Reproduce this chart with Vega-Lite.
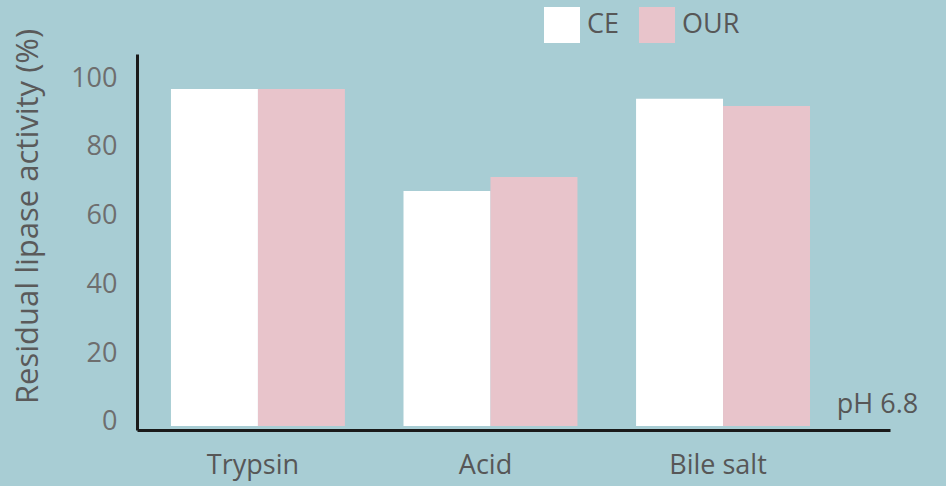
{
  "$schema": "https://vega.github.io/schema/vega-lite/v6.json",
  "width": 753,
  "height": 376,
  "autosize": {"type": "none"},
  "padding": {"left": 137, "top": 54, "right": 56, "bottom": 56},
  "background": "#a8cdd4",
  "config": {
    "view": {"stroke": null},
    "font": "Open Sans",
    "axis": {"domainColor": "#1a1a1a", "domainWidth": 3, "grid": false, "ticks": false}
  },
  "data": {
    "values": [
      {"condition": "Trypsin", "method": "CE", "activity": 98.0},
      {"condition": "Trypsin", "method": "OUR", "activity": 98.0},
      {"condition": "Acid", "method": "CE", "activity": 68.3},
      {"condition": "Acid", "method": "OUR", "activity": 72.4},
      {"condition": "Bile salt", "method": "CE", "activity": 95.1},
      {"condition": "Bile salt", "method": "OUR", "activity": 93.0}
    ]
  },
  "mark": {"type": "bar"},
  "encoding": {
    "x": {
      "field": "condition",
      "type": "nominal",
      "sort": ["Trypsin", "Acid", "Bile salt"],
      "scale": {"paddingInner": 0.252, "paddingOuter": 0.245, "align": 0.298},
      "axis": {
        "title": "pH 6.8",
        "titleX": 740,
        "titleY": -18,
        "titleAlign": "center",
        "titleBaseline": "alphabetic",
        "titleFontSize": 27,
        "titleFontWeight": "normal",
        "titleColor": "#575757",
        "labelAngle": 0,
        "labelFontSize": 27,
        "labelColor": "#575757",
        "labelPadding": 22,
        "labelOffset": -5
      }
    },
    "xOffset": {"field": "method", "type": "nominal", "sort": ["CE", "OUR"]},
    "y": {
      "field": "activity",
      "type": "quantitative",
      "scale": {"domain": [-1.163, 108.14], "nice": false, "zero": false},
      "axis": {
        "values": [0, 20, 40, 60, 80, 100],
        "title": "Residual lipase activity (%)",
        "titleFontSize": 31,
        "titleFontWeight": "normal",
        "titleColor": "#5a5a5a",
        "titleX": -109,
        "titleY": 162,
        "titleAlign": "center",
        "titleBaseline": "middle",
        "titleAngle": -90,
        "labelFontSize": 27,
        "labelColor": "#6e6e6e",
        "labelPadding": 20,
        "labelOffset": -4
      }
    },
    "color": {
      "field": "method",
      "type": "nominal",
      "scale": {"domain": ["CE", "OUR"], "range": ["#ffffff", "#e8c4cb"]},
      "legend": {
        "title": null,
        "orient": "none",
        "legendX": 407,
        "legendY": -47,
        "direction": "horizontal",
        "symbolType": "square",
        "symbolSize": 1296,
        "symbolStrokeWidth": 0,
        "labelFontSize": 27,
        "labelColor": "#575757",
        "labelOffset": 7,
        "columnPadding": 19
      }
    }
  }
}
